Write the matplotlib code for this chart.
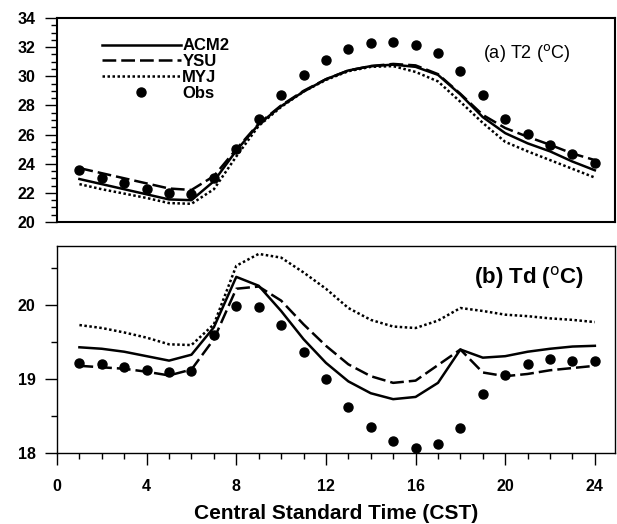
import numpy as np
import matplotlib
matplotlib.use('Agg')
import matplotlib.pyplot as plt
from matplotlib.ticker import MultipleLocator

plt.rcParams['font.family'] = ['Liberation Sans', 'DejaVu Sans']

# -------------------------------------- #
# data
# -------------------------------------- #
hours = np.arange(1, 25)

# (a) 2 m temperature
t2_acm2 = [22.95, 22.6, 22.25, 21.9, 21.55, 21.5, 22.8, 24.9, 26.7, 27.95, 28.95, 29.8,
           30.4, 30.7, 30.8, 30.65, 30.1, 28.75, 27.2, 26.1, 25.4, 24.85, 24.15, 23.55]
t2_ysu = [23.7, 23.35, 23.0, 22.65, 22.3, 22.2, 23.15, 25.0, 26.75, 28.0, 29.0, 29.8,
          30.4, 30.7, 30.85, 30.75, 30.15, 28.8, 27.35, 26.45, 25.85, 25.3, 24.7, 24.25]
t2_myj = [22.6, 22.25, 21.95, 21.65, 21.3, 21.25, 22.25, 24.5, 26.6, 27.9, 28.95, 29.75,
          30.35, 30.65, 30.7, 30.3, 29.65, 28.25, 26.8, 25.5, 24.85, 24.25, 23.65, 23.05]
t2_obs = [23.55, 23.05, 22.7, 22.3, 22.0, 21.9, 23.0, 25.0, 27.05, 28.75, 30.1, 31.15,
          31.85, 32.3, 32.35, 32.15, 31.6, 30.35, 28.75, 27.1, 26.05, 25.3, 24.65, 24.05]

# (b) dew point temperature
td_acm2 = [19.43, 19.41, 19.37, 19.31, 19.25, 19.33, 19.7, 20.38, 20.26, 19.92, 19.54, 19.22,
           18.97, 18.81, 18.73, 18.76, 18.95, 19.40, 19.29, 19.31, 19.37, 19.41, 19.44, 19.45]
td_ysu = [19.18, 19.16, 19.14, 19.10, 19.05, 19.13, 19.54, 20.22, 20.25, 20.06, 19.74, 19.45,
          19.20, 19.04, 18.95, 18.98, 19.19, 19.40, 19.09, 19.04, 19.07, 19.12, 19.15, 19.18]
td_myj = [19.73, 19.69, 19.63, 19.56, 19.47, 19.46, 19.74, 20.53, 20.69, 20.64, 20.44, 20.22,
          19.96, 19.80, 19.71, 19.69, 19.79, 19.96, 19.92, 19.87, 19.85, 19.82, 19.80, 19.77]
td_obs = [19.22, 19.20, 19.17, 19.12, 19.10, 19.11, 19.59, 19.99, 19.98, 19.73, 19.37, 19.00,
          18.62, 18.35, 18.17, 18.07, 18.13, 18.34, 18.80, 19.06, 19.21, 19.27, 19.25, 19.24]

# -------------------------------------- #
# figure
# -------------------------------------- #
fig = plt.figure(figsize=(6.17, 5.24), dpi=100)
ax1 = fig.add_axes([0.0924, 0.5763, 0.9044, 0.3893])
ax2 = fig.add_axes([0.0924, 0.135, 0.9044, 0.396])

lw = 1.8
styles = dict(
    acm2=dict(color='black', lw=lw, ls='-'),
    ysu=dict(color='black', lw=lw, ls=(0, (5.5, 2))),
    myj=dict(color='black', lw=lw, ls=(0, (1, 1))),
)
obs_style = dict(ls='none', marker='o', ms=6.5, color='black')

# 上图 T2
ax1.plot(hours, t2_acm2, label='ACM2', **styles['acm2'])
ax1.plot(hours, t2_ysu, label='YSU', **styles['ysu'])
ax1.plot(hours, t2_myj, label='MYJ', **styles['myj'])
ax1.plot(hours, t2_obs, label='Obs', **obs_style)

# 下图 Td
ax2.plot(hours, td_acm2, **styles['acm2'])
ax2.plot(hours, td_ysu, **styles['ysu'])
ax2.plot(hours, td_myj, **styles['myj'])
ax2.plot(hours, td_obs, **obs_style)

for ax in (ax1, ax2):
    ax.set_xlim(0, 24.9)
    ax.tick_params(axis='both', which='both', direction='out', labelsize=11.5)
    ax.tick_params(which='major', length=8.5, width=1)
    ax.tick_params(which='minor', length=4, width=1)
    ax.tick_params(axis='y', which='both', pad=7)
    ax.tick_params(axis='x', which='both', pad=10)

ax1.set_ylim(20, 34)
ax1.yaxis.set_major_locator(MultipleLocator(2))
ax1.yaxis.set_minor_locator(MultipleLocator(0.5))
ax1.tick_params(axis='x', which='both', bottom=False, labelbottom=False)
for s in ax1.spines.values():
    s.set_linewidth(1.5)

ax2.set_ylim(18, 20.8)
ax2.yaxis.set_major_locator(MultipleLocator(1))
ax2.yaxis.set_minor_locator(MultipleLocator(0.5))
ax2.xaxis.set_major_locator(MultipleLocator(4))
ax2.xaxis.set_minor_locator(MultipleLocator(1))
for s in ax2.spines.values():
    s.set_linewidth(1.0)

for lab in ax1.get_yticklabels() + ax2.get_yticklabels() + ax2.get_xticklabels():
    lab.set_fontweight('bold')

ax2.set_xlabel('Central Standard Time (CST)', fontsize=15, fontweight='bold', labelpad=7)

ax1.text(0.92, 0.83, r'(a) T2 ($^{\rm o}$C)', transform=ax1.transAxes,
         ha='right', va='center', fontsize=13)
ax2.text(0.945, 0.845, r'(b) Td ($^{\rm o}$C)', transform=ax2.transAxes,
         ha='right', va='center', fontsize=16, fontweight='bold')

leg = ax1.legend(loc='upper left', bbox_to_anchor=(0.081, 0.9), frameon=False,
                 handlelength=4.7, handletextpad=0.1, labelspacing=0.05,
                 borderpad=0, borderaxespad=0, prop=dict(size=12, weight='bold'))

fig.savefig('out.png', dpi=100)
